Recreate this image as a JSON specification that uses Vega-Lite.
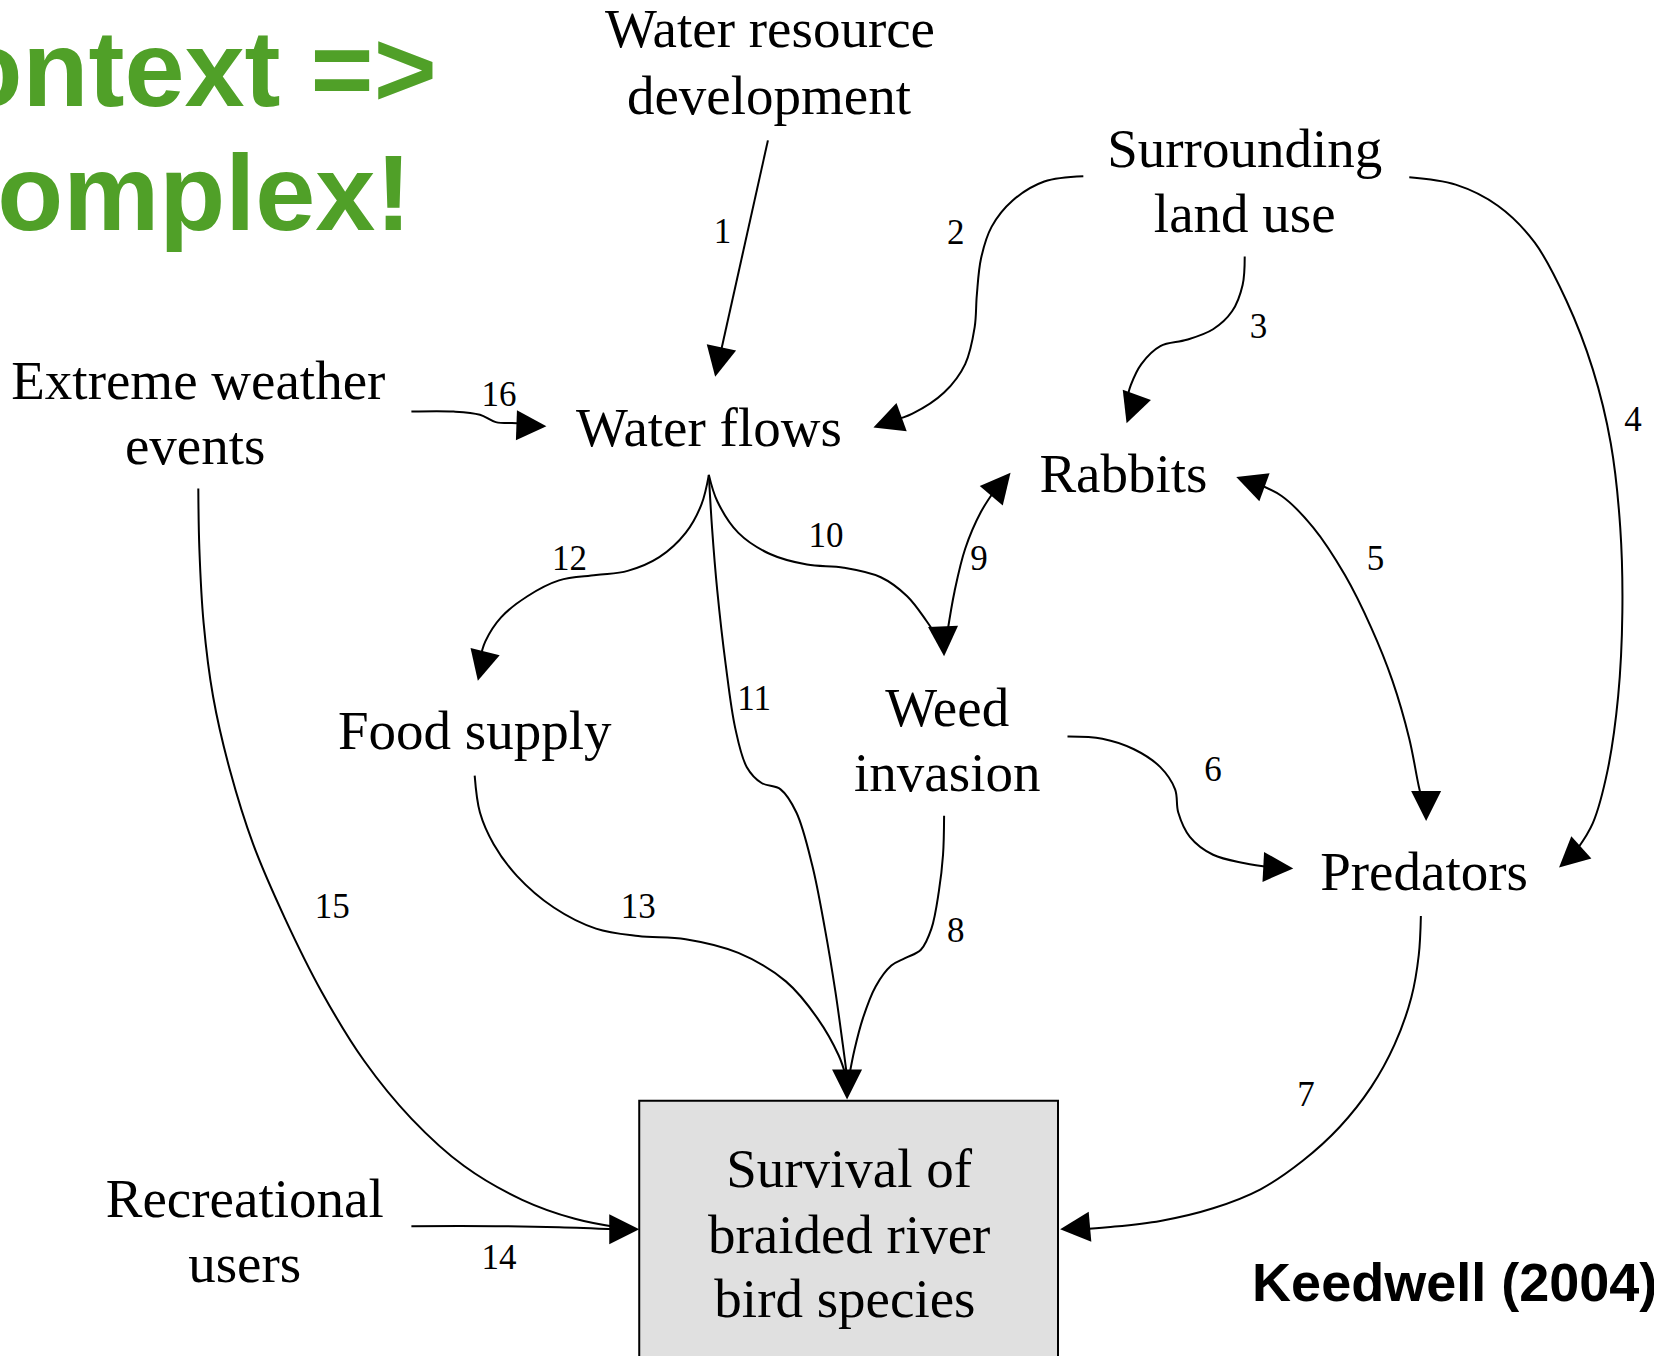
{
  "$schema": "https://vega.github.io/schema/vega-lite/v6.json",
  "width": 1654,
  "height": 1356,
  "autosize": {"type": "none"},
  "padding": 0,
  "background": "white",
  "config": {"view": {"stroke": null}},
  "datasets": {
    "box": [{"x": 606, "x2": 1003, "y": 1043, "y2": 1300}],
    "edges": [
      {"e": 1, "i": 0, "x": 728, "y": 133}, {"e": 1, "i": 1, "x": 683, "y": 335},
      {"e": 2, "i": 0, "x": 1027, "y": 167}, {"e": 2, "i": 1, "x": 990, "y": 172}, {"e": 2, "i": 2, "x": 960, "y": 190}, {"e": 2, "i": 3, "x": 940, "y": 215}, {"e": 2, "i": 4, "x": 930, "y": 245}, {"e": 2, "i": 5, "x": 926, "y": 280}, {"e": 2, "i": 6, "x": 924, "y": 310}, {"e": 2, "i": 7, "x": 915, "y": 345}, {"e": 2, "i": 8, "x": 895, "y": 372}, {"e": 2, "i": 9, "x": 865, "y": 392}, {"e": 2, "i": 10, "x": 845, "y": 399},
      {"e": 3, "i": 0, "x": 1180, "y": 243}, {"e": 3, "i": 1, "x": 1178, "y": 270}, {"e": 3, "i": 2, "x": 1168, "y": 295}, {"e": 3, "i": 3, "x": 1150, "y": 312}, {"e": 3, "i": 4, "x": 1125, "y": 322}, {"e": 3, "i": 5, "x": 1100, "y": 328}, {"e": 3, "i": 6, "x": 1082, "y": 345}, {"e": 3, "i": 7, "x": 1072, "y": 365}, {"e": 3, "i": 8, "x": 1068, "y": 380},
      {"e": 4, "i": 0, "x": 1336, "y": 168}, {"e": 4, "i": 1, "x": 1380, "y": 175}, {"e": 4, "i": 2, "x": 1420, "y": 195}, {"e": 4, "i": 3, "x": 1455, "y": 230}, {"e": 4, "i": 4, "x": 1485, "y": 285}, {"e": 4, "i": 5, "x": 1510, "y": 350}, {"e": 4, "i": 6, "x": 1527, "y": 420}, {"e": 4, "i": 7, "x": 1536, "y": 500}, {"e": 4, "i": 8, "x": 1538, "y": 580}, {"e": 4, "i": 9, "x": 1534, "y": 660}, {"e": 4, "i": 10, "x": 1524, "y": 730}, {"e": 4, "i": 11, "x": 1510, "y": 780}, {"e": 4, "i": 12, "x": 1495, "y": 805},
      {"e": 5, "i": 0, "x": 1190, "y": 458}, {"e": 5, "i": 1, "x": 1215, "y": 470}, {"e": 5, "i": 2, "x": 1245, "y": 500}, {"e": 5, "i": 3, "x": 1275, "y": 545}, {"e": 5, "i": 4, "x": 1300, "y": 595}, {"e": 5, "i": 5, "x": 1320, "y": 645}, {"e": 5, "i": 6, "x": 1336, "y": 700}, {"e": 5, "i": 7, "x": 1345, "y": 745}, {"e": 5, "i": 8, "x": 1350, "y": 765},
      {"e": 6, "i": 0, "x": 1012, "y": 698}, {"e": 6, "i": 1, "x": 1045, "y": 700}, {"e": 6, "i": 2, "x": 1075, "y": 710}, {"e": 6, "i": 3, "x": 1100, "y": 727}, {"e": 6, "i": 4, "x": 1114, "y": 748}, {"e": 6, "i": 5, "x": 1117, "y": 770}, {"e": 6, "i": 6, "x": 1128, "y": 793}, {"e": 6, "i": 7, "x": 1150, "y": 810}, {"e": 6, "i": 8, "x": 1180, "y": 818}, {"e": 6, "i": 9, "x": 1205, "y": 822},
      {"e": 7, "i": 0, "x": 1347, "y": 868}, {"e": 7, "i": 1, "x": 1345, "y": 905}, {"e": 7, "i": 2, "x": 1338, "y": 945}, {"e": 7, "i": 3, "x": 1322, "y": 990}, {"e": 7, "i": 4, "x": 1300, "y": 1030}, {"e": 7, "i": 5, "x": 1270, "y": 1068}, {"e": 7, "i": 6, "x": 1235, "y": 1100}, {"e": 7, "i": 7, "x": 1195, "y": 1127}, {"e": 7, "i": 8, "x": 1150, "y": 1145}, {"e": 7, "i": 9, "x": 1100, "y": 1157}, {"e": 7, "i": 10, "x": 1050, "y": 1163}, {"e": 7, "i": 11, "x": 1025, "y": 1165},
      {"e": 8, "i": 0, "x": 895, "y": 773}, {"e": 8, "i": 1, "x": 894, "y": 810}, {"e": 8, "i": 2, "x": 890, "y": 845}, {"e": 8, "i": 3, "x": 883, "y": 880}, {"e": 8, "i": 4, "x": 873, "y": 900}, {"e": 8, "i": 5, "x": 858, "y": 908}, {"e": 8, "i": 6, "x": 845, "y": 915}, {"e": 8, "i": 7, "x": 830, "y": 935}, {"e": 8, "i": 8, "x": 818, "y": 965}, {"e": 8, "i": 9, "x": 810, "y": 995}, {"e": 8, "i": 10, "x": 805, "y": 1020},
      {"e": 9, "i": 0, "x": 945, "y": 462}, {"e": 9, "i": 1, "x": 930, "y": 485}, {"e": 9, "i": 2, "x": 915, "y": 520}, {"e": 9, "i": 3, "x": 905, "y": 560}, {"e": 9, "i": 4, "x": 898, "y": 600},
      {"e": 10, "i": 0, "x": 672, "y": 450}, {"e": 10, "i": 1, "x": 680, "y": 475}, {"e": 10, "i": 2, "x": 700, "y": 505}, {"e": 10, "i": 3, "x": 730, "y": 525}, {"e": 10, "i": 4, "x": 765, "y": 535}, {"e": 10, "i": 5, "x": 800, "y": 538}, {"e": 10, "i": 6, "x": 835, "y": 547}, {"e": 10, "i": 7, "x": 860, "y": 565}, {"e": 10, "i": 8, "x": 878, "y": 588}, {"e": 10, "i": 9, "x": 889, "y": 605},
      {"e": 11, "i": 0, "x": 672, "y": 450}, {"e": 11, "i": 1, "x": 675, "y": 500}, {"e": 11, "i": 2, "x": 680, "y": 560}, {"e": 11, "i": 3, "x": 688, "y": 630}, {"e": 11, "i": 4, "x": 697, "y": 690}, {"e": 11, "i": 5, "x": 708, "y": 727}, {"e": 11, "i": 6, "x": 722, "y": 742}, {"e": 11, "i": 7, "x": 740, "y": 748}, {"e": 11, "i": 8, "x": 755, "y": 770}, {"e": 11, "i": 9, "x": 770, "y": 820}, {"e": 11, "i": 10, "x": 782, "y": 880}, {"e": 11, "i": 11, "x": 792, "y": 940}, {"e": 11, "i": 12, "x": 799, "y": 990}, {"e": 11, "i": 13, "x": 803, "y": 1020},
      {"e": 12, "i": 0, "x": 672, "y": 450}, {"e": 12, "i": 1, "x": 665, "y": 478}, {"e": 12, "i": 2, "x": 650, "y": 505}, {"e": 12, "i": 3, "x": 625, "y": 528}, {"e": 12, "i": 4, "x": 595, "y": 541}, {"e": 12, "i": 5, "x": 565, "y": 545}, {"e": 12, "i": 6, "x": 530, "y": 550}, {"e": 12, "i": 7, "x": 500, "y": 565}, {"e": 12, "i": 8, "x": 475, "y": 585}, {"e": 12, "i": 9, "x": 460, "y": 608}, {"e": 12, "i": 10, "x": 455, "y": 625},
      {"e": 13, "i": 0, "x": 450, "y": 735}, {"e": 13, "i": 1, "x": 455, "y": 770}, {"e": 13, "i": 2, "x": 468, "y": 800}, {"e": 13, "i": 3, "x": 490, "y": 830}, {"e": 13, "i": 4, "x": 525, "y": 860}, {"e": 13, "i": 5, "x": 565, "y": 880}, {"e": 13, "i": 6, "x": 605, "y": 887}, {"e": 13, "i": 7, "x": 650, "y": 890}, {"e": 13, "i": 8, "x": 700, "y": 903}, {"e": 13, "i": 9, "x": 745, "y": 930}, {"e": 13, "i": 10, "x": 775, "y": 965}, {"e": 13, "i": 11, "x": 795, "y": 1000}, {"e": 13, "i": 12, "x": 802, "y": 1020},
      {"e": 14, "i": 0, "x": 390, "y": 1162}, {"e": 14, "i": 1, "x": 470, "y": 1162}, {"e": 14, "i": 2, "x": 530, "y": 1163}, {"e": 14, "i": 3, "x": 585, "y": 1165},
      {"e": 15, "i": 0, "x": 188, "y": 463}, {"e": 15, "i": 1, "x": 189, "y": 520}, {"e": 15, "i": 2, "x": 193, "y": 590}, {"e": 15, "i": 3, "x": 202, "y": 660}, {"e": 15, "i": 4, "x": 218, "y": 730}, {"e": 15, "i": 5, "x": 240, "y": 800}, {"e": 15, "i": 6, "x": 270, "y": 870}, {"e": 15, "i": 7, "x": 305, "y": 940}, {"e": 15, "i": 8, "x": 345, "y": 1005}, {"e": 15, "i": 9, "x": 390, "y": 1060}, {"e": 15, "i": 10, "x": 440, "y": 1105}, {"e": 15, "i": 11, "x": 495, "y": 1137}, {"e": 15, "i": 12, "x": 545, "y": 1155}, {"e": 15, "i": 13, "x": 585, "y": 1163},
      {"e": 16, "i": 0, "x": 390, "y": 390}, {"e": 16, "i": 1, "x": 430, "y": 390}, {"e": 16, "i": 2, "x": 455, "y": 393}, {"e": 16, "i": 3, "x": 470, "y": 400}, {"e": 16, "i": 4, "x": 490, "y": 401}, {"e": 16, "i": 5, "x": 500, "y": 402}
    ],
    "arrows": [
      {"x": 678, "y": 357, "angle": 192}, {"x": 828, "y": 405, "angle": 250}, {"x": 1068, "y": 401, "angle": 200},
      {"x": 1478, "y": 822, "angle": 228}, {"x": 1172, "y": 452, "angle": 290}, {"x": 1352, "y": 778, "angle": 180},
      {"x": 1226, "y": 823, "angle": 93}, {"x": 1005, "y": 1165, "angle": 265}, {"x": 803, "y": 1042, "angle": 180},
      {"x": 958, "y": 448, "angle": 40}, {"x": 895, "y": 622, "angle": 178}, {"x": 453, "y": 645, "angle": 194},
      {"x": 606, "y": 1165, "angle": 90}, {"x": 518, "y": 404, "angle": 92}
    ],
    "nodes": [
      {"x": 730, "y": 45, "t": "Water resource"}, {"x": 729, "y": 108, "t": "development"},
      {"x": 1180, "y": 158, "t": "Surrounding"}, {"x": 1180, "y": 220, "t": "land use"},
      {"x": 188, "y": 378, "t": "Extreme weather"}, {"x": 185, "y": 440, "t": "events"},
      {"x": 672, "y": 423, "t": "Water flows"}, {"x": 1065, "y": 466, "t": "Rabbits"},
      {"x": 450, "y": 710, "t": "Food supply"},
      {"x": 898, "y": 688, "t": "Weed"}, {"x": 898, "y": 750, "t": "invasion"},
      {"x": 1350, "y": 843, "t": "Predators"},
      {"x": 232, "y": 1153, "t": "Recreational"}, {"x": 232, "y": 1215, "t": "users"},
      {"x": 805, "y": 1125, "t": "Survival of"}, {"x": 805, "y": 1187, "t": "braided river"}, {"x": 801, "y": 1248, "t": "bird species"}
    ],
    "labels": [
      {"x": 685, "y": 230, "t": "1"}, {"x": 906, "y": 231, "t": "2"}, {"x": 1193, "y": 320, "t": "3"}, {"x": 1548, "y": 408, "t": "4"},
      {"x": 1304, "y": 540, "t": "5"}, {"x": 1150, "y": 740, "t": "6"}, {"x": 1238, "y": 1048, "t": "7"}, {"x": 906, "y": 893, "t": "8"},
      {"x": 928, "y": 540, "t": "9"}, {"x": 783, "y": 518, "t": "10"}, {"x": 715, "y": 673, "t": "11"}, {"x": 540, "y": 540, "t": "12"},
      {"x": 605, "y": 870, "t": "13"}, {"x": 473, "y": 1203, "t": "14"}, {"x": 315, "y": 870, "t": "15"}, {"x": 473, "y": 385, "t": "16"}
    ],
    "title": [
      {"x": 414, "y": 100, "t": "Context =>"}, {"x": 390, "y": 218, "t": "complex!"}
    ],
    "credit": [{"x": 1187, "y": 1233, "t": "Keedwell (2004)"}]
  },
  "encoding": {
    "x": {"field": "x", "type": "quantitative", "scale": {"domain": [0, 1568], "nice": false, "zero": false}, "axis": null},
    "y": {"field": "y", "type": "quantitative", "scale": {"domain": [0, 1285], "reverse": true, "nice": false, "zero": false}, "axis": null}
  },
  "layer": [
    {
      "data": {"name": "box"},
      "mark": {"type": "rect", "fill": "#e0e0e0", "stroke": "black", "strokeWidth": 2},
      "encoding": {"x2": {"field": "x2"}, "y2": {"field": "y2"}}
    },
    {
      "data": {"name": "edges"},
      "mark": {"type": "line", "interpolate": "catmull-rom", "stroke": "black", "strokeWidth": 2},
      "encoding": {"detail": {"field": "e", "type": "nominal"}, "order": {"field": "i", "type": "quantitative"}}
    },
    {
      "data": {"name": "arrows"},
      "mark": {"type": "point", "shape": "M0,0L-0.75,1.5L0.75,1.5Z", "filled": true, "fill": "black", "stroke": null, "opacity": 1, "size": 1600},
      "encoding": {"angle": {"field": "angle", "type": "quantitative", "scale": null}}
    },
    {
      "data": {"name": "nodes"},
      "mark": {"type": "text", "font": "Liberation Serif", "fontSize": 55, "align": "center", "baseline": "alphabetic", "color": "black"},
      "encoding": {"text": {"field": "t"}}
    },
    {
      "data": {"name": "labels"},
      "mark": {"type": "text", "font": "Liberation Serif", "fontSize": 35, "align": "center", "baseline": "alphabetic", "color": "black"},
      "encoding": {"text": {"field": "t"}}
    },
    {
      "data": {"name": "title"},
      "mark": {"type": "text", "font": "Liberation Sans", "fontWeight": "bold", "fontSize": 108, "align": "right", "baseline": "alphabetic", "color": "#50a028"},
      "encoding": {"text": {"field": "t"}}
    },
    {
      "data": {"name": "credit"},
      "mark": {"type": "text", "font": "Liberation Sans", "fontWeight": "bold", "fontSize": 54, "align": "left", "baseline": "alphabetic", "color": "black"},
      "encoding": {"text": {"field": "t"}}
    }
  ]
}
